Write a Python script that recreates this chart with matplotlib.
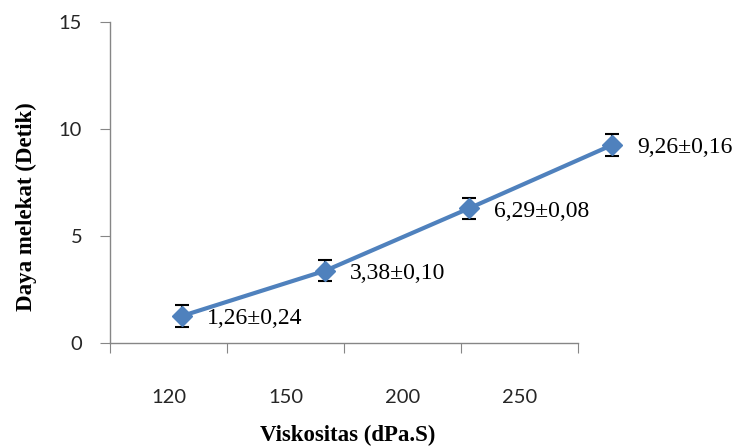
import matplotlib.pyplot as plt

# data
categories = ["120", "150", "200", "250"]
values = [1.26, 3.38, 6.29, 9.26]
sd = [0.24, 0.10, 0.08, 0.16]
err_bar = [0.5, 0.5, 0.5, 0.5]  # bars in the picture are drawn at a fixed +/-0.5
labels = [f"{v:.2f}±{s:.2f}".replace(".", ",") for v, s in zip(values, sd)]

line_color = "#4F81BD"
axis_color = "#868686"

fig = plt.figure(figsize=(7.41, 4.46), dpi=100)
ax = fig.add_axes([110 / 741, 1 - 343 / 446, 468 / 741, 321 / 446])

# category axis
ax.set_xlim(0, len(categories))
ax.set_xticks(range(len(categories) + 1))
ax.set_xticklabels([])
ax.set_xticks([i + 0.5 for i in range(len(categories))], minor=True)
ax.set_xticklabels(categories, minor=True)
ax.tick_params(axis="x", which="major", length=7, color=axis_color, direction="out")
ax.tick_params(axis="x", which="minor", length=0, pad=33, labelsize=14.5)
ax.set_ylim(0, 15)
ax.set_yticks([0, 5, 10, 15])
ax.tick_params(axis="y", length=7, color=axis_color, pad=13, labelsize=14.5)
for lab in ax.get_xticklabels(minor=True) + ax.get_yticklabels():
    lab.set_fontfamily("Lato")
    lab.set_color("#262626")

for side in ["top", "right"]:
    ax.spines[side].set_visible(False)
for side in ["left", "bottom"]:
    ax.spines[side].set_color(axis_color)
    ax.spines[side].set_linewidth(1.0)

# the series in the original sits shifted from the category centres,
# so it lives on its own (hidden) x scale
ax2 = ax.twiny()
ax2.set_xlim(-0.5, 2.76)
ax2.set_ylim(0, 15)
ax2.axis("off")
xs = list(range(len(values)))
ax2.errorbar(xs, values, yerr=err_bar, fmt="none", ecolor="black",
             elinewidth=1.5, capsize=5, capthick=1.5, zorder=2, clip_on=False)
ax2.plot(xs, values, color=line_color, lw=3, marker="D", markersize=10,
         zorder=3, clip_on=False)
for x, y, t in zip(xs, values, labels):
    ax2.annotate(t, (x, y), xytext=(18, -2), textcoords="offset points",
                 ha="left", va="center", fontsize=17, annotation_clip=False,
                 family="Liberation Serif", color="black")

fig.text(26 / 741, 1 - 207 / 446, "Daya melekat (Detik)", rotation=90,
         ha="center", va="center", fontsize=16.5, fontweight="bold",
         family="Liberation Serif")
fig.text(348 / 741, 1 - 435 / 446, "Viskositas (dPa.S)",
         ha="center", va="center", fontsize=16.5, fontweight="bold",
         family="Liberation Serif")

fig.savefig("out.png", dpi=100)
plt.close(fig)
